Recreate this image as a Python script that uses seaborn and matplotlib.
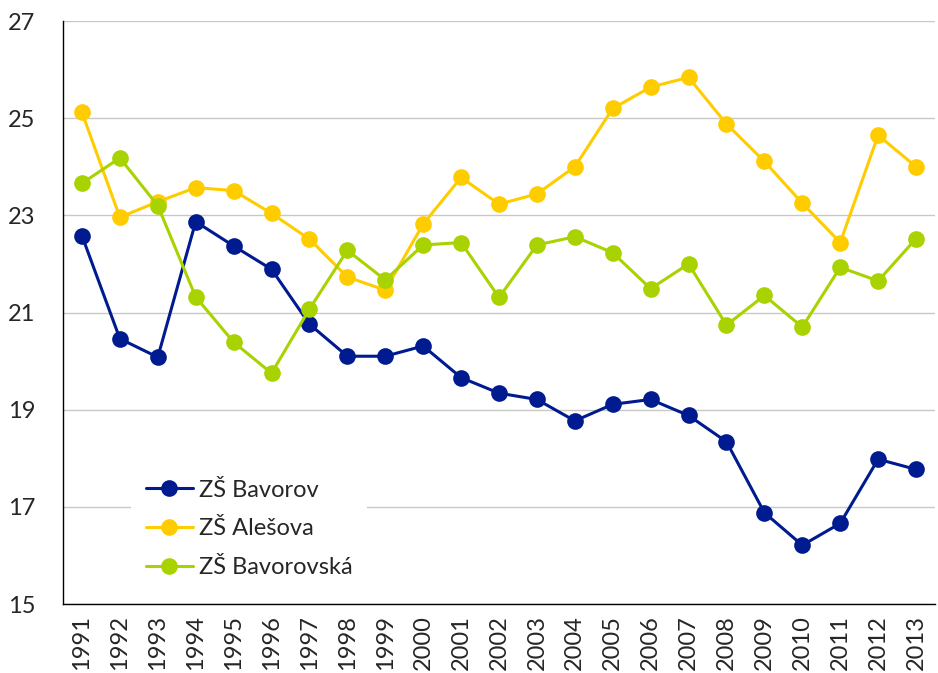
import matplotlib
matplotlib.use("Agg")
import matplotlib.pyplot as plt
from matplotlib.lines import Line2D
from matplotlib.ticker import MultipleLocator
import pandas as pd
import seaborn as sns

years = list(range(1991, 2014))

bavorov = [22.58, 20.46, 20.08, 22.87, 22.37, 21.89, 20.76, 20.10, 20.10, 20.31,
           19.66, 19.34, 19.21, 18.77, 19.11, 19.21, 18.88, 18.34, 16.88, 16.21,
           16.66, 17.98, 17.77]
alesova = [25.12, 22.96, 23.28, 23.57, 23.51, 23.04, 22.51, 21.73, 21.46, 22.82,
           23.78, 23.23, 23.44, 24.00, 25.20, 25.64, 25.84, 24.88, 24.11, 23.25,
           22.44, 24.65, 24.00]
bavorovska = [23.66, 24.18, 23.20, 21.32, 20.39, 19.75, 21.07, 22.28, 21.67, 22.39,
              22.44, 21.31, 22.39, 22.56, 22.23, 21.49, 22.00, 20.74, 21.35, 20.70,
              21.93, 21.65, 22.52]

series_names = ["ZŠ Bavorov", "ZŠ Alešova", "ZŠ Bavorovská"]
colors = ["#001A8F", "#FFCC00", "#A8D200"]

df = pd.DataFrame({
    "rok": years * 3,
    "hodnota": bavorov + alesova + bavorovska,
    "skola": [n for n in series_names for _ in years],
})

sns.set_style("white")
plt.rcParams["font.family"] = ["Lato", "DejaVu Sans"]

fig = plt.figure(figsize=(9.38, 6.73), dpi=100)
ax = fig.add_axes([63 / 938, 69 / 673, 872 / 938, 583 / 673])

sns.lineplot(data=df, x="rok", y="hodnota", hue="skola", hue_order=series_names,
             palette=colors, marker="o", markersize=12, markeredgewidth=0,
             linewidth=2.2, legend=False, ax=ax, zorder=3)

ax.set_xlim(1990.5, 2013.5)
ax.set_ylim(15, 27)
ax.set_xticks(years)
ax.set_xticklabels([str(y) for y in years], rotation=90, fontsize=17)
ax.xaxis.set_minor_locator(MultipleLocator(1, offset=0.5))
ax.tick_params(axis="x", which="major", length=0, pad=8)
ax.tick_params(axis="x", which="minor", length=8, width=1, direction="out", color="#000000")
ax.set_yticks(range(15, 28, 2))
ax.tick_params(axis="y", length=8, width=1, direction="out", pad=12, labelsize=17, color="#000000")
ax.grid(axis="y", color="#C8C8C8", linewidth=1)
ax.set_axisbelow(True)
ax.set_xlabel("")
ax.set_ylabel("")

for s in ["top", "right"]:
    ax.spines[s].set_visible(False)
for s in ["left", "bottom"]:
    ax.spines[s].set_color("#000000")
    ax.spines[s].set_linewidth(1)

handles = [Line2D([], [], color=c, linewidth=2.2, marker="o", markersize=12,
                  markeredgewidth=0) for c in colors]
leg = ax.legend(handles, series_names, loc="lower left", bbox_to_anchor=(0.065, 0.0),
                fontsize=17, frameon=True, facecolor="white", edgecolor="none",
                framealpha=1, handlelength=2.0, labelspacing=0.75,
                handletextpad=0.25, borderpad=0.6, fancybox=False)
leg.set_zorder(5)

fig.savefig("out.png", dpi=100)
